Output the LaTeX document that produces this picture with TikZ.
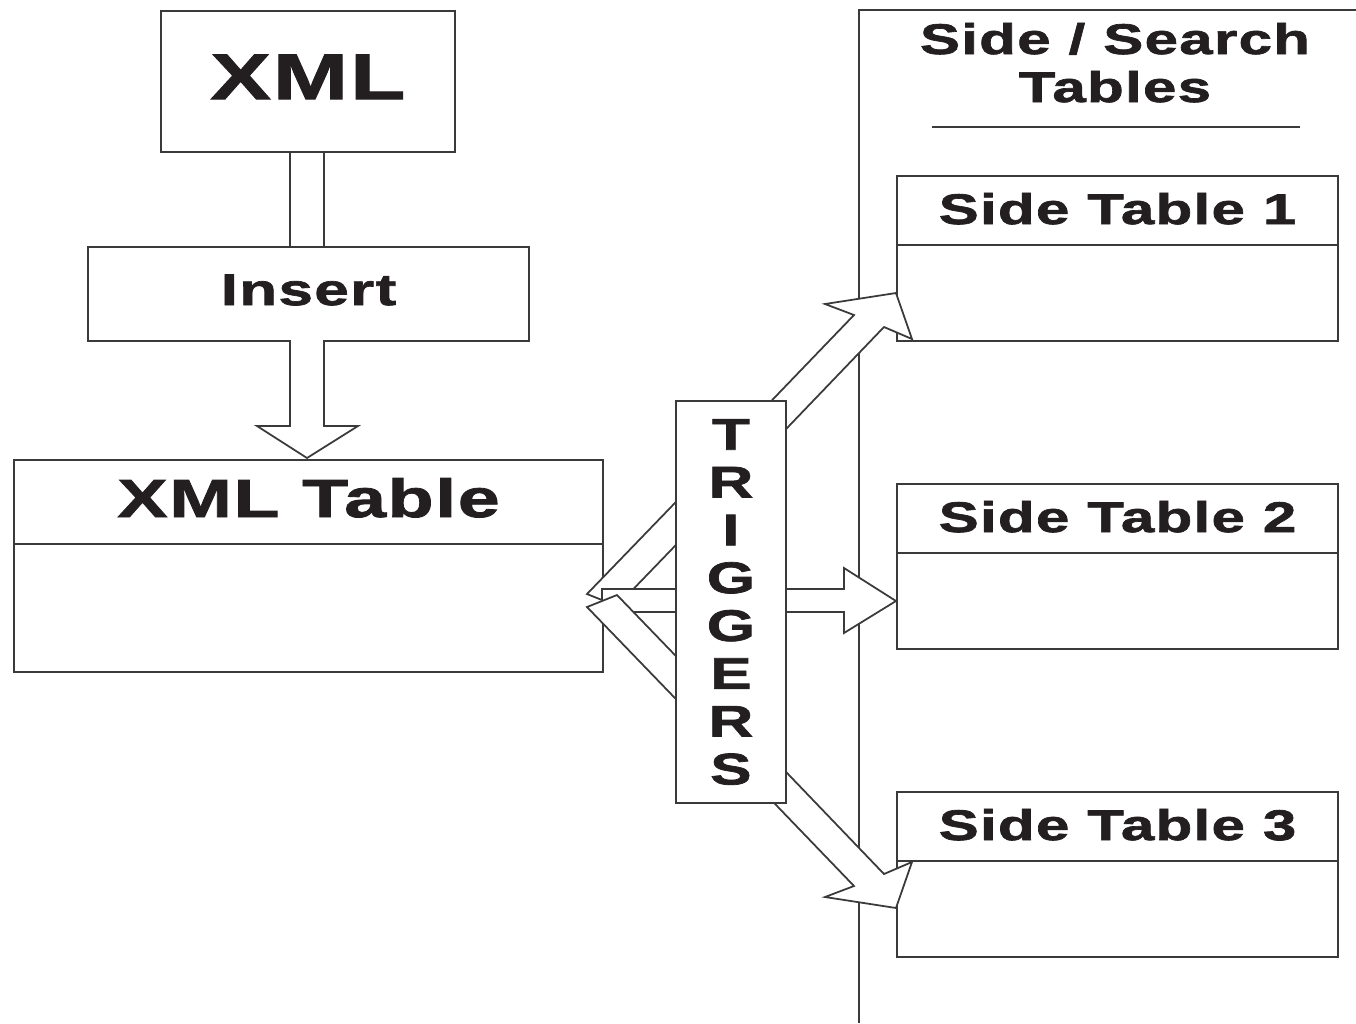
\documentclass[tikz,border=0pt]{standalone}
\usepackage{fontspec}
\newfontfamily\wideface{Liberation Sans}[FakeStretch=1.4,LetterSpace=3,FakeBold=1.6]
\definecolor{ink}{HTML}{231F20}
\definecolor{rulegray}{HTML}{3A3A3A}
\usetikzlibrary{positioning}

\tikzset{
  box/.style={draw=rulegray,line width=0.5pt,fill=white,inner sep=0pt,anchor=north west},
  headtext/.style={text=ink,anchor=base,inner sep=0pt},
  blockarrow/.style={draw=rulegray,line width=0.5pt,fill=white,line join=miter},
  plainline/.style={draw=rulegray,line width=0.5pt}
}
\newcommand{\hfont}[1]{\wideface\bfseries\fontsize{#1}{#1}\selectfont}

\begin{document}
\begin{tikzpicture}[x=0.01cm,y=-0.01cm]
  \useasboundingbox (0,0) rectangle (1356,1023);

  % side / search tables column
  \draw[plainline] (1356,10) -- (859,10) -- (859,1023);
  \node[headtext,font=\hfont{12.2}] (colhead) at (1115,54) {Side / Search};
  \node[headtext,font=\hfont{12.2}] (colhead2) at (1115,102) {Tables};
  \draw[plainline] (932,127) -- (1300,127);

  \foreach \n/\y in {1/175,2/483,3/791} {
    \node[box,minimum width=4.41cm,minimum height=1.65cm] (side\n) at (896,\y) {};
    \draw[plainline] ([yshift=-0.70cm]side\n.north west) -- ([yshift=-0.70cm]side\n.north east);
    \node[headtext,font=\hfont{12.2}] (sidename\n) at ([yshift=-0.49cm]side\n.north) {Side Table \n};
  }

  % xml document and insert
  \node[box,minimum width=2.94cm,minimum height=1.41cm] (xml) at (160,10) {};
  \node[headtext,font=\hfont{18.4}] (xmlname) at ([yshift=-0.89cm]xml.north) {XML};
  \draw[plainline] (290,151) -- (290,246) (324,151) -- (324,246);
  \node[box,minimum width=4.41cm,minimum height=0.94cm] (insert) at (87,246) {};
  \node[headtext,font=\hfont{12.6}] (insertname) at ([yshift=-0.59cm]insert.north) {Insert};
  \draw[blockarrow] (290,340) -- (290,426) -- (257,426) -- (307,458) -- (358,426) -- (324,426) -- (324,340);

  % xml table
  \node[box,minimum width=5.89cm,minimum height=2.12cm] (xmltab) at (13,459) {};
  \draw[plainline] ([yshift=-0.85cm]xmltab.north west) -- ([yshift=-0.85cm]xmltab.north east);
  \node[headtext,font=\hfont{15.3}] (xmltabname) at ([yshift=-0.58cm]xmltab.north) {XML Table};

  % trigger arrows
  \draw[blockarrow] (700,477) -- (587,594) -- (617,606) -- (700,520) -- cycle;
  \draw[blockarrow] (602,589) -- (844,589) -- (844,568) -- (896,601) -- (844,633) -- (844,612) -- (602,612) -- cycle;
  \draw[blockarrow] (700,724) -- (587,607) -- (617,595) -- (700,681) -- cycle;
  \draw[blockarrow] (753,420) -- (854,315) -- (825,304) -- (896,293) -- (912,339) -- (884,327) -- (765,451) -- cycle;
  \draw[blockarrow] (753,781) -- (854,886) -- (825,897) -- (896,908) -- (912,862) -- (884,874) -- (765,750) -- cycle;

  \node[box,minimum width=1.10cm,minimum height=4.02cm,align=center,text=ink,
        font=\wideface\bfseries\fontsize{12.6}{13.6}\selectfont] (trig) at (675,400)
        {T\\R\\I\\G\\G\\E\\R\\S};
\end{tikzpicture}
\end{document}
